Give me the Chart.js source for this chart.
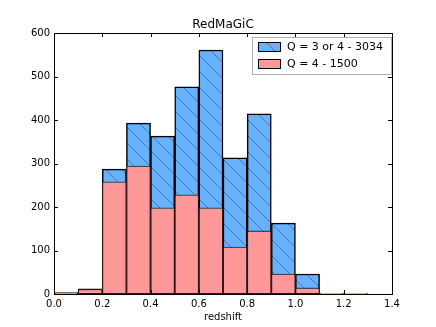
<!DOCTYPE html>
<html><head><meta charset="utf-8">
<script src="https://cdn.jsdelivr.net/npm/chart.js@4"></script>
<style>html,body{margin:0;padding:0;background:#fff}#wrap{width:436px;height:327px}</style>
</head><body><div id="wrap"><canvas id="c" width="436" height="327"></canvas></div>
<script>
const binCenters = [0.05,0.15,0.25,0.35,0.45,0.55,0.65,0.75,0.85,0.95,1.05,1.15,1.25];
const allQ = [3,12,287,393,363,476,561,313,414,163,46,1,1];
const q4 = [0,11,258,294,198,228,198,108,145,46,14,null,null];
const seriesLabels = ['Q = 4 - 1500','Q = 3 or 4 - 3034'];
const xTicks = [0,0.2,0.4,0.6,0.8,1.0,1.2,1.4];
const yTicks = [0,100,200,300,400,500,600];
const titleText = 'RedMaGiC';
const xLabel = 'redshift';

const FONT = 'DejaVu Sans';
function hatch(){
  const s = 16, c = document.createElement('canvas'); c.width = s; c.height = s;
  const g = c.getContext('2d');
  g.fillStyle = '#66b2ff'; g.fillRect(0,0,s,s);
  g.strokeStyle = 'rgba(40,60,100,0.6)'; g.lineWidth = 0.8;
  for (const k of [-s,0,s]) { g.beginPath(); g.moveTo(k,0); g.lineTo(k+s,s); g.stroke(); }
  return document.getElementById('c').getContext('2d').createPattern(c,'repeat');
}
const pts = a => binCenters.map((x,i)=>({x, y:a[i]}));

const frame = {
  id:'frame',
  afterDraw(chart){
    const {ctx, chartArea:a, scales:{x,y}} = chart;
    ctx.save();
    ctx.strokeStyle = '#000'; ctx.lineWidth = 1;
    ctx.beginPath();
    for (const v of xTicks){ const p = Math.round(x.getPixelForValue(v))+0.5;
      ctx.moveTo(p,a.bottom); ctx.lineTo(p,a.bottom-4); ctx.moveTo(p,a.top); ctx.lineTo(p,a.top+4); }
    for (const v of yTicks){ const p = Math.round(y.getPixelForValue(v))+0.5;
      ctx.moveTo(a.left,p); ctx.lineTo(a.left+4,p); ctx.moveTo(a.right,p); ctx.lineTo(a.right-4,p); }
    ctx.stroke();
    ctx.strokeRect(Math.round(a.left)+0.5, Math.round(a.top)+0.5, Math.round(a.right-a.left), Math.round(a.bottom-a.top));
    // title
    ctx.fillStyle = '#000'; ctx.font = '12px "'+FONT+'"'; ctx.textAlign='center'; ctx.textBaseline='middle';
    ctx.fillText(titleText, (a.left+a.right)/2, 25);
    // legend
    const ds = chart.data.datasets;
    const order = [1,0];
    const lx = 252, ly = 37, lw = 139, lh = 37;
    ctx.fillStyle = '#fff'; ctx.fillRect(lx,ly,lw,lh);
    ctx.strokeStyle = '#b0b0b0'; ctx.strokeRect(lx+0.5,ly+0.5,lw,lh);
    ctx.font = '11px "'+FONT+'"'; ctx.textAlign='left';
    order.forEach((di,i)=>{
      const yy = ly + 10 + i*17;
      ctx.fillStyle = ds[di].backgroundColor; ctx.fillRect(258, yy-4, 22, 9);
      ctx.strokeStyle = '#000'; ctx.lineWidth = 1; ctx.strokeRect(258.5, yy-4.5, 22, 9);
      ctx.fillStyle = '#000'; ctx.fillText(ds[di].label, 287, yy+0.5);
    });
    ctx.restore();
  }
};

new Chart(document.getElementById('c'), {
  type:'bar',
  data:{ datasets:[
    {label:seriesLabels[0], data:pts(q4), backgroundColor:'#ff9999', borderColor:'rgba(60,30,30,0.75)', borderWidth:1.3, borderSkipped:false},
    {label:seriesLabels[1], data:pts(allQ), backgroundColor:hatch(), borderColor:'#000', borderWidth:1.5, borderSkipped:false}
  ]},
  plugins:[frame],
  options:{
    responsive:false, animation:false,
    layout:{padding:{left:0,right:44,top:33,bottom:0}},
    datasets:{bar:{grouped:false, barPercentage:1, categoryPercentage:1}},
    plugins:{legend:{display:false}, title:{display:false}, tooltip:{enabled:false}},
    scales:{
      x:{type:'linear', min:0, max:1.4, offset:false,
        afterBuildTicks(s){ s.ticks = xTicks.map(v=>({value:v})); },
        afterFit(s){ s.height = 33; },
        grid:{display:false, drawTicks:false}, border:{display:false},
        ticks:{padding:4, color:'#000', font:{family:FONT,size:10}, maxRotation:0, callback:v=>v.toFixed(1)},
        title:{display:true, text:xLabel, color:'#000', font:{family:FONT,size:10}, padding:{top:0,bottom:4}}},
      y:{min:0, max:600,
        afterBuildTicks(s){ s.ticks = yTicks.map(v=>({value:v})); },
        afterFit(s){ s.width = 54; },
        grid:{display:false, drawTicks:false}, border:{display:false},
        ticks:{padding:4, color:'#000', font:{family:FONT,size:10}}}
    }
  }
});
</script></body></html>
